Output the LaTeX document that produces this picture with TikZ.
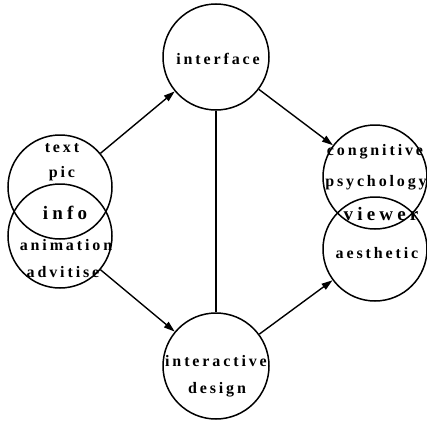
\documentclass[tikz,border=0pt]{standalone}
\usepackage{fontspec}
\setmainfont{Liberation Serif}
\newfontfamily\labfont{Liberation Serif}[UprightFont={* Bold},LetterSpace=18]
\newfontfamily\bigfont{Liberation Serif}[UprightFont={* Bold},LetterSpace=22]
\usetikzlibrary{arrows.meta}
\begin{document}
\begin{tikzpicture}[x=1pt,y=1pt,
  ring/.style={circle,draw,line width=1.5pt,inner sep=0pt,minimum size=#1},
  lab/.style={anchor=base,inner sep=0pt,font=\labfont\fontsize{16}{18}\selectfont},
  biglab/.style={anchor=base,inner sep=0pt,font=\bigfont\fontsize{19}{21}\selectfont},
  conn/.style={line width=1.4pt},
  arr/.style={conn,-{Triangle[length=11pt,width=7pt]}}]
\useasboundingbox (0,0) rectangle (427,-423);
% circles
\node[ring=106pt] (iface) at (216,-57) {};
\node[ring=106pt] (idesign) at (216,-366) {};
\node[ring=104pt] (lt) at (60,-187) {};
\node[ring=104pt] (lb) at (60,-236) {};
\node[ring=104pt] (rt) at (375,-177) {};
\node[ring=104pt] (rb) at (375,-249) {};
% texts
\node[lab] (t1) at (218,-64) {interface};
\node[lab] (t2) at (62,-152) {text};
\node[lab] (t3) at (62,-177) {pic};
\node[biglab] (t4) at (65,-219) {info};
\node[lab] (t5) at (66,-250) {animation};
\node[lab] (t6) at (63,-277) {advitise};
\node[lab] (t7) at (375,-155) {congnitive};
\node[lab] (t8) at (376,-186) {psychology};
\node[biglab] (t9) at (381,-220) {viewer};
\node[lab] (t10) at (377,-258) {aesthetic};
\node[lab] (t11) at (216,-366) {interactive};
\node[lab] (t12) at (217,-393) {design};
% connectors
\draw[arr] (lt) -- (iface);
\draw[arr] (iface) -- (rt);
\draw[arr] (lb) -- (idesign);
\draw[arr] (idesign) -- (rb);
\draw[conn] (iface) -- (idesign);
\end{tikzpicture}
\end{document}
